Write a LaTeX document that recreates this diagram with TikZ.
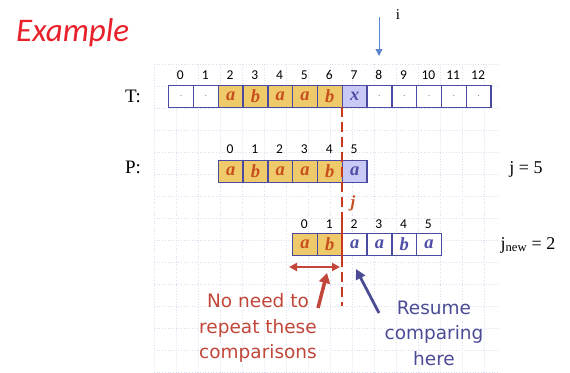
\documentclass[tikz,border=0pt]{standalone}
\usepackage{fontspec}
\setmainfont{Liberation Serif}
\newfontfamily\calib{Carlito}
\newfontfamily\tah{DejaVu Sans}
\usetikzlibrary{arrows.meta}
\definecolor{cellborder}{HTML}{4A4AA0}
\definecolor{yel}{HTML}{EFCA6A}
\definecolor{lav}{HTML}{C9C9F5}
\definecolor{redl}{HTML}{C8501E}
\definecolor{bluel}{HTML}{4E4EA6}
\definecolor{gridc}{HTML}{D9E0EF}
\definecolor{dashred}{HTML}{C8391E}
\definecolor{exred}{HTML}{E8202A}
\definecolor{iarrow}{HTML}{5B86CC}
\definecolor{notered}{HTML}{C2473A}
\definecolor{noteblue}{HTML}{4C4C96}
\tikzset{
  gridline/.style={gridc, line width=0.7pt, dotted},
  cell/.style={draw=cellborder, line width=1.3pt, minimum width=24.8pt, minimum height=21.5pt,
    inner sep=0pt, anchor=north west, font=\bfseries\itshape\fontsize{18.5}{18.5}\selectfont},
  ycell/.style={cell, fill=yel, text=redl},
  lcell/.style={cell, fill=lav, text=bluel},
  wcell/.style={cell, fill=white, text=bluel},
  dcell/.style={cell, fill=white, text=gray, font=\fontsize{10}{10}\selectfont},
  idx/.style={font=\calib\fontsize{13.5}{13.5}\selectfont, inner sep=0pt},
  lbl/.style={font=\fontsize{19}{19}\selectfont, inner sep=0pt},
  note/.style={font=\tah\fontsize{18.5}{25.5}\selectfont, align=center, inner sep=0pt},
}
\begin{document}
\begin{tikzpicture}[x=1pt,y=-1pt]
\useasboundingbox[fill=white] (0,0) rectangle (570,372);
% background grid
\foreach \x in {154,176,...,500} \draw[gridline] (\x,64) -- (\x,372);
\foreach \y in {64,86,...,372} \draw[gridline] (154,\y) -- (497,\y);

\node[font=\calib\itshape\fontsize{33}{33}\selectfont, text=exred, anchor=west, inner sep=0pt] (ex) at (16,33) {Example};

% i arrow
\node[font=\fontsize{15}{15}\selectfont, inner sep=0pt] (ilbl) at (398,15) {i};
\coordinate (itop) at (379,17);
\coordinate (ibot) at (379,56);
\draw[iarrow, line width=1pt, -{Triangle[length=7pt,width=7pt]}] (itop) -- (ibot);

% T row
\node[lbl] (tl) at (133,96) {T:};
\foreach \i/\s/\c in {0/dcell/.,1/dcell/.,2/ycell/a,3/ycell/b,4/ycell/a,5/ycell/a,6/ycell/b,7/lcell/x,8/dcell/.,9/dcell/.,10/dcell/.,11/dcell/.,12/dcell/.}{
  \node[\s] (t\i) at (168+24.8*\i,85) {\c};
  \node[idx] (ti\i) at (180.4+24.8*\i,75) {\i};
}

% P row
\node[lbl] (pl) at (133,167) {P:};
\foreach \i/\s/\c in {0/ycell/a,1/ycell/b,2/ycell/a,3/ycell/a,4/ycell/b,5/lcell/a}{
  \node[\s] (p\i) at (217.6+24.8*\i,160) {\c};
  \node[idx] (pi\i) at (230+24.8*\i,149.5) {\i};
}
\node[lbl, font=\fontsize{18}{18}\selectfont] (j5) at (526,169) {j = 5};

% shifted row
\foreach \i/\s/\c in {0/ycell/a,1/ycell/b,2/wcell/a,3/wcell/a,4/wcell/b,5/wcell/a}{
  \node[\s] (n\i) at (292+24.8*\i,233) {\c};
  \node[idx] (ni\i) at (304.4+24.8*\i,224.5) {\i};
}
\node[lbl, font=\fontsize{18}{18}\selectfont] (jn) at (528,245) {j\textsubscript{new} = 2};

% dashed alignment line
\coordinate (da) at (342,107);
\coordinate (db) at (342,306);
\coordinate (sa) at (342,220);
\coordinate (sb) at (342,266);
\draw[dashred, line width=2.4pt, dash pattern=on 10pt off 5pt] (da) -- (db);
\draw[dashred, line width=2.4pt] (sa) -- (sb);
\node[text=redl, font=\bfseries\itshape\fontsize{17}{17}\selectfont, inner sep=0pt] (jl) at (353,203) {j};

% arrows
\coordinate (dl) at (289,267);
\coordinate (dr) at (340,267);
\draw[notered, line width=2.2pt, {Triangle[length=8pt,width=8pt]}-{Triangle[length=8pt,width=8pt]}] (dl) -- (dr);
\coordinate (ra) at (318,308);
\coordinate (rb) at (327,273);
\draw[notered, line width=3.5pt, -{Triangle[length=10pt,width=11pt]}] (ra) -- (rb);
\coordinate (ba) at (379,313);
\coordinate (bb) at (356,269);
\draw[noteblue, line width=2.8pt, -{Triangle[length=10pt,width=10pt]}] (ba) -- (bb);

% notes
\node[note, text=notered] (n1) at (258,328) {No need to\\repeat these\\comparisons};
\node[note, text=noteblue] (n2) at (434,333) {Resume\\comparing\\here};
\end{tikzpicture}
\end{document}
